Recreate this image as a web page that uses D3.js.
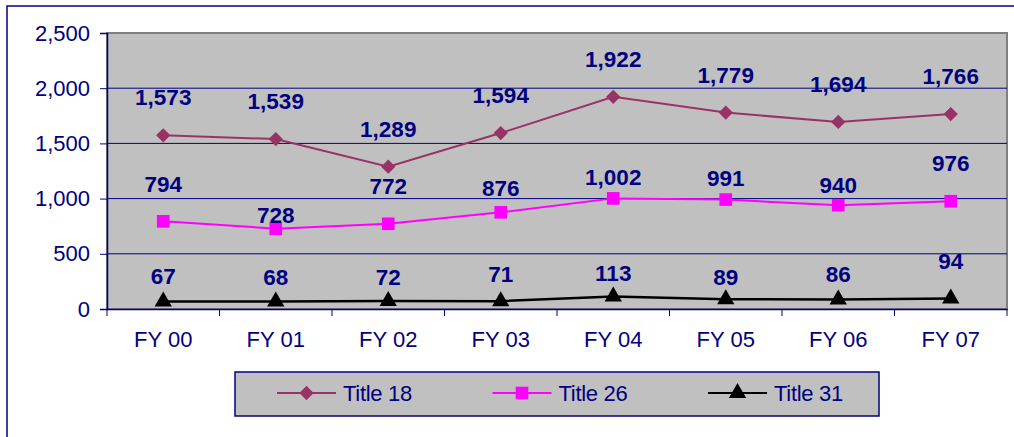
<!DOCTYPE html>
<html>
<head>
<meta charset="utf-8">
<script src="https://cdn.jsdelivr.net/npm/d3@7"></script>
<style>
  body { margin: 0; background: #fff; }
  text { font-family: "Liberation Sans", Arial, sans-serif; }
</style>
</head>
<body>
<script>
// data
var years = ["FY 00", "FY 01", "FY 02", "FY 03", "FY 04", "FY 05", "FY 06", "FY 07"];
var title18 = [1573, 1539, 1289, 1594, 1922, 1779, 1694, 1766];
var title26 = [794, 728, 772, 876, 1002, 991, 940, 976];
var title31 = [67, 68, 72, 71, 113, 89, 86, 94];
var yTicks = [0, 500, 1000, 1500, 2000, 2500];

var series = [
  {name: "Title 18", values: title18, color: "#993366", symbol: d3.symbolDiamond2, size: 130, width: 2},
  {name: "Title 26", values: title26, color: "#FF00FF", symbol: d3.symbolSquare, size: 160, width: 2},
  {name: "Title 31", values: title31, color: "#000000", symbol: d3.symbolTriangle, size: 130, width: 2.5}
];

// label lift above each point (px), copying the hand-placed labels
var labelLift = [
  [38, 38, 38, 38, 38, 38, 38, 38],
  [37, 14, 38, 24, 21, 22, 20, 38],
  [26, 25, 24, 27, 24, 22, 26, 38]
];

var navy = "#000080";
var margin = {top: 33, right: 7, bottom: 128, left: 107},
    width = 1014 - margin.left - margin.right,
    height = 437 - margin.top - margin.bottom;

var svg = d3.select("body").append("svg")
    .attr("width", 1014)
    .attr("height", 437);

// outer chart border
svg.append("rect")
    .attr("x", 7).attr("y", 6)
    .attr("width", 1030).attr("height", 460)
    .attr("fill", "none")
    .attr("stroke", navy)
    .attr("stroke-width", 1.5);

var g = svg.append("g")
    .attr("transform", "translate(" + margin.left + "," + margin.top + ")");

var xScale = d3.scaleBand().domain(years).range([0, width]);
var yScale = d3.scaleLinear().domain([0, 2500]).range([height, 0]);

// plot area
g.append("rect")
    .attr("width", width)
    .attr("height", height)
    .attr("fill", "#C0C0C0")
    .attr("stroke", "#808080")
    .attr("stroke-width", 2);

// gridlines
g.selectAll(".grid")
    .data(yTicks.slice(1, -1))
  .enter().append("line")
    .attr("x1", 0).attr("x2", width)
    .attr("y1", function(d) { return yScale(d); })
    .attr("y2", function(d) { return yScale(d); })
    .attr("stroke", navy)
    .attr("stroke-width", 1);

// y axis
var yAxis = g.append("g")
    .call(d3.axisLeft(yScale).tickValues(yTicks).tickSize(7).tickPadding(10)
      .tickFormat(d3.format(",")));
yAxis.select(".domain").attr("stroke", navy).attr("stroke-width", 1.5);
yAxis.selectAll(".tick line").attr("stroke", navy);
yAxis.selectAll("text")
    .attr("fill", navy)
    .style("font-size", "22px")
    .style("font-family", "Liberation Sans, Arial, sans-serif");

// x axis
var xAxis = g.append("g")
    .attr("transform", "translate(0," + height + ")")
    .call(d3.axisBottom(xScale).tickSize(0).tickPadding(22));
xAxis.select(".domain").attr("stroke", navy).attr("stroke-width", 1.5);
xAxis.selectAll("text")
    .attr("fill", navy)
    .style("font-size", "22px")
    .style("font-family", "Liberation Sans, Arial, sans-serif");

// category boundary ticks
g.selectAll(".xtick")
    .data(d3.range(years.length + 1))
  .enter().append("line")
    .attr("x1", function(i) { return i * xScale.bandwidth(); })
    .attr("x2", function(i) { return i * xScale.bandwidth(); })
    .attr("y1", height).attr("y2", height + 7)
    .attr("stroke", navy);

var cx = function(d, i) { return xScale(years[i]) + xScale.bandwidth() / 2; };

// lines, markers, labels
series.forEach(function(s, si) {
  var line = d3.line()
      .x(function(d, i) { return cx(d, i); })
      .y(function(d) { return yScale(d); });

  g.append("path")
      .datum(s.values)
      .attr("d", line)
      .attr("fill", "none")
      .attr("stroke", s.color)
      .attr("stroke-width", s.width);

  g.selectAll(".m" + si)
      .data(s.values)
    .enter().append("path")
      .attr("d", d3.symbol().type(s.symbol).size(s.size))
      .attr("transform", function(d, i) { return "translate(" + cx(d, i) + "," + yScale(d) + ")"; })
      .attr("fill", s.color);

  g.selectAll(".l" + si)
      .data(s.values)
    .enter().append("text")
      .attr("x", cx)
      .attr("y", function(d, i) { return yScale(d) - labelLift[si][i]; })
      .attr("dy", "0.36em")
      .attr("text-anchor", "middle")
      .attr("fill", navy)
      .attr("font-weight", "bold")
      .style("font-size", "22.5px")
      .text(function(d) { return d3.format(",")(d); });
});

// legend
var legend = svg.append("g");
legend.append("rect")
    .attr("x", 235).attr("y", 372)
    .attr("width", 644).attr("height", 44)
    .attr("fill", "#C0C0C0")
    .attr("stroke", navy)
    .attr("stroke-width", 1.5);

var item = legend.selectAll(".item")
    .data(series)
  .enter().append("g")
    .attr("transform", function(d, i) { return "translate(" + (277 + i * 215.5) + ",393)"; });

item.append("line")
    .attr("x1", 0).attr("x2", 59)
    .attr("stroke", function(d) { return d.color; })
    .attr("stroke-width", 2);

item.append("path")
    .attr("d", function(d) { return d3.symbol().type(d.symbol).size(d.size)(); })
    .attr("transform", "translate(29.5,0)")
    .attr("fill", function(d) { return d.color; });

item.append("text")
    .attr("x", 66)
    .attr("dy", "0.36em")
    .attr("fill", navy)
    .style("font-size", "22px")
    .style("letter-spacing", "-0.3px")
    .text(function(d) { return d.name; });
</script>
</body>
</html>
